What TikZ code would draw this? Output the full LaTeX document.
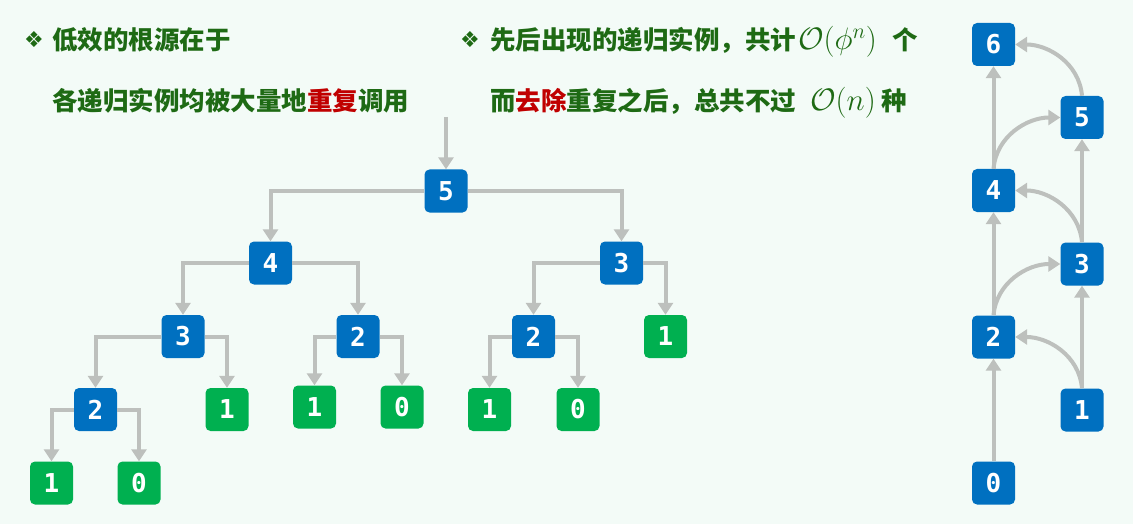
\RequirePackage{fix-cm}
\documentclass[tikz,border=0pt]{standalone}
\usepackage{fontspec}
\usetikzlibrary{arrows.meta}
\newfontfamily\cjk{Noto Sans CJK SC}
\newfontfamily\symfont{DejaVu Sans}
\newfontfamily\digitfont{DejaVu Sans Mono}
\definecolor{bg}{HTML}{F3FBF7}
\definecolor{nblue}{HTML}{0070C0}
\definecolor{ngreen}{HTML}{00B050}
\definecolor{agray}{HTML}{BDC0BD}
\definecolor{tgreen}{HTML}{1E6A14}
\definecolor{tred}{HTML}{C00000}
\tikzset{
  box/.style={minimum width=43pt, minimum height=43pt, rounded corners=5pt, inner sep=0pt,
    text=white, font=\digitfont\bfseries\fontsize{26}{26}\selectfont},
  bnode/.style={box, fill=nblue},
  gnode/.style={box, fill=ngreen},
  arr/.style={draw=agray, line width=4pt, -{Triangle[width=15pt,length=12pt]}},
  txt/.style={anchor=base west, inner sep=0pt, text=tgreen, font=\cjk\bfseries\fontsize{25.5}{26}\selectfont},
  bul/.style={anchor=base west, inner sep=0pt, text=tgreen, font=\symfont\fontsize{22}{22}\selectfont}
}
\newcommand{\redtxt}[1]{\textcolor{tred}{#1}}
\newcommand{\mathbigtxt}[1]{{\fontsize{31}{31}\selectfont$#1$}}
\begin{document}
\begin{tikzpicture}[x=1pt,y=-1pt]
\path[fill=bg] (0,0) rectangle (1133,524);
% texts
\node[bul] (b1) at (24,48) {❖};
\node[txt] (t1) at (52,50) {低效的根源在于};
\node[txt] (t2) at (52,111) {各递归实例均被大量地\redtxt{重复}调用};
\node[bul] (b2) at (460,48) {❖};
\node[txt] (t3) at (490,50) {先后出现的递归实例，共计\hspace{2pt}\mathbigtxt{\mathcal{O}(\phi^n)}\hspace{16pt}个};
\node[txt] (t4) at (490,111) {而\redtxt{去除}重复之后，总共不过\hspace{14pt}\mathbigtxt{\mathcal{O}(n)}\hspace{6pt}种};
% tree
\coordinate (top) at (446,117);
\node[bnode] (n5) at (446,191) {5};
\node[bnode] (n4) at (270.5,263) {4};
\node[bnode] (n3r) at (621.5,263) {3};
\node[bnode] (n3l) at (183,336.5) {3};
\node[bnode] (n2m) at (358,336.5) {2};
\node[bnode] (n2r) at (533.5,336.5) {2};
\node[gnode] (g1r) at (665.5,336.5) {1};
\node[bnode] (n2l) at (95.5,409.5) {2};
\node[gnode] (g1a) at (227,409.5) {1};
\node[gnode] (g1m) at (314.5,407) {1};
\node[gnode] (g0m) at (402,407) {0};
\node[gnode] (g1b) at (489.5,409.5) {1};
\node[gnode] (g0b) at (578,409.5) {0};
\node[gnode] (g1c) at (51.5,483) {1};
\node[gnode] (g0c) at (139,483) {0};
\draw[arr] (top) -- (n5.north);
\draw[arr] (n5.west) -| (n4.north);
\draw[arr] (n5.east) -| (n3r.north);
\draw[arr] (n4.west) -| (n3l.north);
\draw[arr] (n4.east) -| (n2m.north);
\draw[arr] (n3r.west) -| (n2r.north);
\draw[arr] (n3r.east) -| (g1r.north);
\draw[arr] (n3l.west) -| (n2l.north);
\draw[arr] (n3l.east) -| (g1a.north);
\draw[arr] (n2m.west) -| (g1m.north);
\draw[arr] (n2m.east) -| (g0m.north);
\draw[arr] (n2r.west) -| (g1b.north);
\draw[arr] (n2r.east) -| (g0b.north);
\draw[arr] (n2l.west) -| (g1c.north);
\draw[arr] (n2l.east) -| (g0c.north);
% chain
\node[bnode] (c6) at (993.5,44.5) {6};
\node[bnode] (c5) at (1082,117.5) {5};
\node[bnode] (c4) at (993.5,190.5) {4};
\node[bnode] (c3) at (1082,264) {3};
\node[bnode] (c2) at (993.5,337) {2};
\node[bnode] (c1) at (1082,410) {1};
\node[bnode] (c0) at (993.5,483) {0};
\draw[arr] (c0.north) -- (c2.south);
\draw[arr] (c1.north) -- (c3.south);
\draw[arr] (c2.north) -- (c4.south);
\draw[arr] (c3.north) -- (c5.south);
\draw[arr] (c4.north) -- (c6.south);
\draw[arr] (c1.north) to[out=95,in=0] (c2.east);
\draw[arr] (c2.north) to[out=85,in=180] (c3.west);
\draw[arr] (c3.north) to[out=95,in=0] (c4.east);
\draw[arr] (c4.north) to[out=85,in=180] (c5.west);
\draw[arr] (c5.north) to[out=95,in=0] (c6.east);
\end{tikzpicture}
\end{document}
